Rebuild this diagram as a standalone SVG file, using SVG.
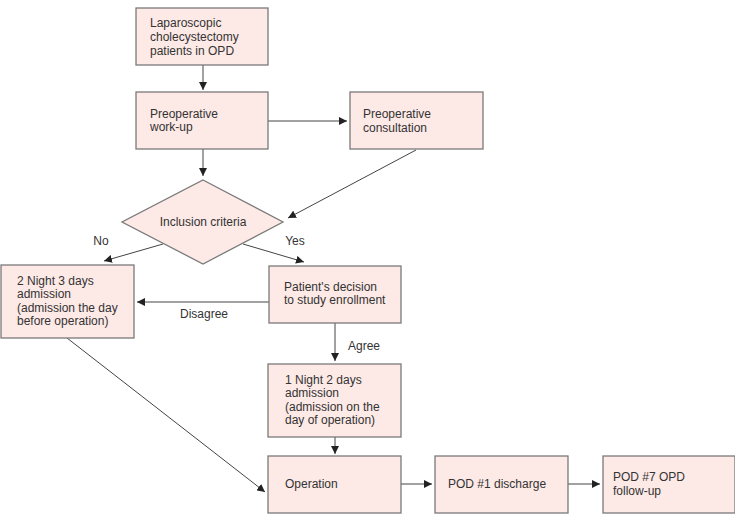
<svg xmlns="http://www.w3.org/2000/svg" width="735" height="520" viewBox="0 0 735 520">
<defs>
<marker id="ah" viewBox="0 0 10 10" refX="10" refY="5" markerWidth="8" markerHeight="8" markerUnits="userSpaceOnUse" orient="auto"><path d="M0,0 L10,5 L0,10 z" fill="#222"/></marker>
</defs>
<style>
.n{fill:#fde9e6;stroke:#7a7a7a;stroke-width:1.3}
text{font-family:"Liberation Sans",Arial,sans-serif;font-size:12px;fill:#333}
.c{stroke:#444;stroke-width:1;fill:none;marker-end:url(#ah)}
</style>
<rect width="735" height="520" fill="#fff"/>
<g id="connectors">
<line class="c" x1="203" y1="65" x2="203" y2="90"/>
<line class="c" x1="268" y1="121" x2="347" y2="121"/>
<line class="c" x1="203" y1="149" x2="203" y2="176"/>
<line class="c" x1="416" y1="150" x2="288" y2="218"/>
<line class="c" x1="163" y1="244" x2="104" y2="261"/>
<line class="c" x1="243" y1="244" x2="304" y2="262"/>
<line class="c" x1="269" y1="302" x2="137" y2="302"/>
<line class="c" x1="335" y1="323" x2="335" y2="361"/>
<line class="c" x1="335" y1="437" x2="335" y2="454"/>
<line class="c" x1="67" y1="338" x2="265" y2="492"/>
<line class="c" x1="401" y1="484" x2="432" y2="484"/>
<line class="c" x1="568" y1="484" x2="600" y2="484"/>
<text x="101" y="245" text-anchor="middle">No</text>
<text x="295" y="245" text-anchor="middle">Yes</text>
<text x="204" y="318" text-anchor="middle">Disagree</text>
<text x="364" y="350" text-anchor="middle">Agree</text>
</g>
<g id="n1"><rect class="n" x="136" y="8" width="132" height="57"/>
<text x="150" y="27">Laparoscopic</text><text x="150" y="41">cholecystectomy</text><text x="150" y="55">patients in OPD</text></g>
<g id="n2"><rect class="n" x="136" y="92" width="132" height="57"/>
<text x="150" y="118">Preoperative</text><text x="150" y="131">work-up</text></g>
<g id="n3"><rect class="n" x="350" y="92" width="133" height="57"/>
<text x="363" y="118">Preoperative</text><text x="363" y="132">consultation</text></g>
<g id="n4"><polygon class="n" points="203,180 283,222 203,264 122,222"/>
<text x="203" y="226" text-anchor="middle">Inclusion criteria</text></g>
<g id="n5"><rect class="n" x="1" y="265" width="133" height="73"/>
<text x="17" y="285">2 Night 3 days</text><text x="17" y="298">admission</text><text x="17" y="312">(admission the day</text><text x="17" y="325">before operation)</text></g>
<g id="n6"><rect class="n" x="269" y="266" width="132" height="57"/>
<text x="284" y="291">Patient's decision</text><text x="284" y="304">to study enrollment</text></g>
<g id="n7"><rect class="n" x="268" y="364" width="133" height="73"/>
<text x="285" y="384">1 Night 2 days</text><text x="285" y="397">admission</text><text x="285" y="411">(admission on the</text><text x="285" y="424">day of operation)</text></g>
<g id="n8"><rect class="n" x="268" y="456" width="133" height="57"/>
<text x="285" y="488">Operation</text></g>
<g id="n9"><rect class="n" x="435" y="456" width="133" height="57"/>
<text x="448" y="488">POD #1 discharge</text></g>
<g id="n10"><rect class="n" x="603" y="456" width="132" height="57"/>
<text x="613" y="481">POD #7 OPD</text><text x="613" y="495">follow-up</text></g>
</svg>
